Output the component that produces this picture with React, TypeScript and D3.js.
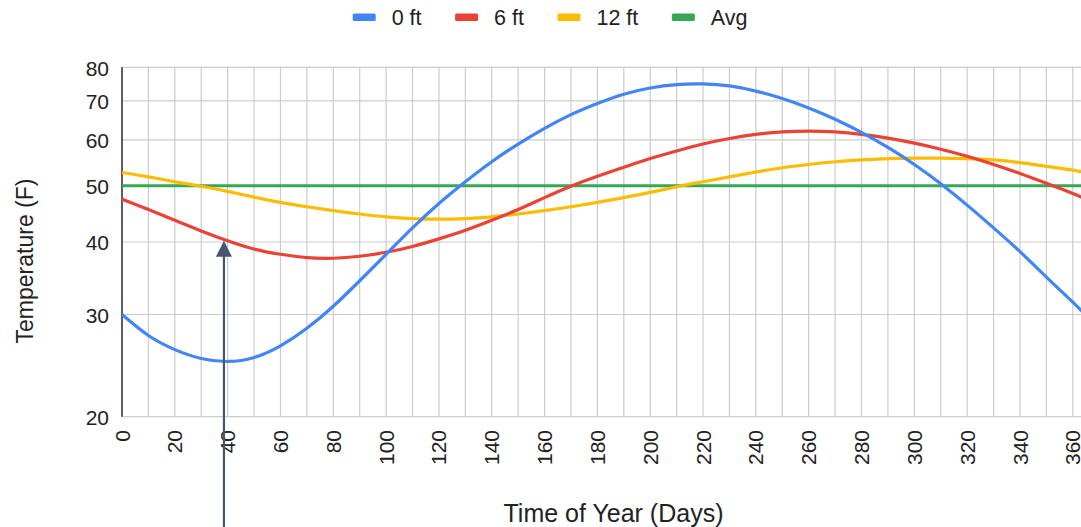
import React, { useEffect, useRef } from "react";
import * as d3 from "d3";

// days of the year sampled every 10 days (plus the year end)
const days = [0, 10, 20, 30, 40, 50, 60, 70, 80, 90, 100, 110, 120, 130, 140, 150, 160, 170, 180, 190, 200, 210, 220, 230, 240, 250, 260, 270, 280, 290, 300, 310, 320, 330, 340, 350, 360, 365];

const temp0ft = [30.0, 27.6, 26.1, 25.2, 24.9, 25.3, 26.5, 28.4, 31.0, 34.3, 38.1, 42.3, 46.6, 50.8, 55.0, 59.0, 62.8, 66.3, 69.3, 71.9, 73.7, 74.7, 74.9, 74.3, 72.8, 70.7, 68.1, 65.1, 61.8, 58.2, 54.4, 50.4, 46.3, 42.3, 38.5, 34.8, 31.5, 29.9];
const temp6ft = [47.4, 45.5, 43.6, 41.8, 40.2, 38.9, 38.1, 37.6, 37.5, 37.8, 38.4, 39.3, 40.5, 41.9, 43.6, 45.5, 47.7, 49.9, 51.9, 53.8, 55.7, 57.4, 59.0, 60.3, 61.3, 61.9, 62.1, 61.9, 61.3, 60.4, 59.2, 57.8, 56.2, 54.4, 52.5, 50.5, 48.5, 47.4];
const temp12ft = [52.7, 51.8, 50.8, 49.9, 48.9, 47.8, 46.8, 46.0, 45.3, 44.7, 44.2, 43.9, 43.8, 43.9, 44.2, 44.7, 45.3, 46.0, 46.8, 47.7, 48.7, 49.8, 50.8, 51.8, 52.8, 53.7, 54.4, 55.0, 55.4, 55.7, 55.8, 55.8, 55.7, 55.4, 54.8, 54.0, 53.2, 52.7];
const tempAvg = [50, 50, 50, 50, 50, 50, 50, 50, 50, 50, 50, 50, 50, 50, 50, 50, 50, 50, 50, 50, 50, 50, 50, 50, 50, 50, 50, 50, 50, 50, 50, 50, 50, 50, 50, 50, 50, 50];

const seriesNames = ["0 ft", "6 ft", "12 ft", "Avg"];
const seriesColors = ["#4285f4", "#ea4335", "#fbbc04", "#34a853"];
const yTicks = [20, 30, 40, 50, 60, 70, 80];
const xTicks = d3.range(0, 361, 20);
const xGrid = d3.range(0, 361, 10);

// annotation arrow
const arrowDay = 38.6;
const arrowTemp = 40.2;

const W = 1081, H = 527;
const FONT = "'Liberation Sans', Arial, sans-serif";

export default function App() {
  const svgRef = useRef<SVGSVGElement>(null);

  useEffect(() => {
    const svg = d3.select(svgRef.current);
    svg.selectAll("*").remove();

    const margin = { top: 67.3, left: 122, bottom: 416.7, right: 1086 };

    const x = d3.scaleLinear().domain([0, 365]).range([margin.left, margin.right]);
    const y = d3.scaleLog().domain([20, 80]).range([margin.bottom, margin.top]);

    // grid
    const grid = svg.append("g").attr("stroke", "#cccccc").attr("stroke-width", 1.2);
    grid.selectAll("line.v").data(xGrid).join("line")
      .attr("x1", d => x(d)).attr("x2", d => x(d))
      .attr("y1", margin.top).attr("y2", margin.bottom);
    grid.selectAll("line.h").data(yTicks).join("line")
      .attr("x1", margin.left).attr("x2", margin.right)
      .attr("y1", d => y(d)).attr("y2", d => y(d));

    // left axis line
    svg.append("line")
      .attr("x1", margin.left).attr("x2", margin.left)
      .attr("y1", margin.top).attr("y2", margin.bottom)
      .attr("stroke", "#333").attr("stroke-width", 1.5);

    // y tick labels
    svg.append("g").selectAll("text").data(yTicks).join("text")
      .attr("x", 109).attr("y", d => y(d)).attr("dy", "0.4em")
      .attr("text-anchor", "end")
      .attr("font-family", FONT).attr("font-size", 21).attr("fill", "#222")
      .text(d => d);

    // x tick labels (rotated)
    svg.append("g").selectAll("text").data(xTicks).join("text")
      .attr("transform", d => `translate(${x(d)},430) rotate(-90)`)
      .attr("dy", "0.36em")
      .attr("text-anchor", "end")
      .attr("font-family", FONT).attr("font-size", 21).attr("fill", "#222")
      .text(d => d);

    // lines
    const allSeries = [temp0ft, temp6ft, temp12ft, tempAvg];
    const line = d3.line<number>()
      .x((_, i) => x(days[i]))
      .y(d => y(d))
      .curve(d3.curveNatural);
    const order = [3, 2, 1, 0];
    order.forEach(k => {
      svg.append("path")
        .datum(allSeries[k])
        .attr("fill", "none")
        .attr("stroke", seriesColors[k])
        .attr("stroke-width", 3.2)
        .attr("d", line);
    });

    // annotation arrow
    const ax = x(arrowDay);
    const tipY = y(arrowTemp);
    svg.append("line")
      .attr("x1", ax).attr("x2", ax)
      .attr("y1", H).attr("y2", tipY + 14)
      .attr("stroke", "#465670").attr("stroke-width", 2.2);
    svg.append("path")
      .attr("d", `M${ax},${tipY} L${ax - 8},${tipY + 16} L${ax + 8},${tipY + 16} Z`)
      .attr("fill", "#465670");

    // axis titles
    svg.append("text")
      .attr("x", (margin.left + margin.right) / 2 + 9.5).attr("y", 522)
      .attr("text-anchor", "middle")
      .attr("font-family", FONT).attr("font-size", 25).attr("fill", "#222")
      .text("Time of Year (Days)");
    svg.append("text")
      .attr("transform", `translate(33,${(margin.top + margin.bottom) / 2 + 19}) rotate(-90)`)
      .attr("text-anchor", "middle")
      .attr("font-family", FONT).attr("font-size", 23).attr("fill", "#222")
      .text("Temperature (F)");

    // legend
    const legend = svg.append("g");
    let lx = 352.7;
    seriesNames.forEach((name, i) => {
      legend.append("rect")
        .attr("x", lx).attr("y", 13.5)
        .attr("width", 23).attr("height", 7.5).attr("rx", 1.5)
        .attr("fill", seriesColors[i]);
      const t = legend.append("text")
        .attr("x", lx + 39).attr("y", 25)
        .attr("font-family", FONT).attr("font-size", 21.5).attr("fill", "#222")
        .text(name);
      const w = (t.node() as SVGTextElement).getComputedTextLength();
      lx = lx + 39 + w + 33.5;
    });
  }, []);

  return (
    <svg
      ref={svgRef}
      width={W}
      height={H}
      style={{ position: "absolute", left: 0, top: 0, background: "#fff" }}
    />
  );
}
